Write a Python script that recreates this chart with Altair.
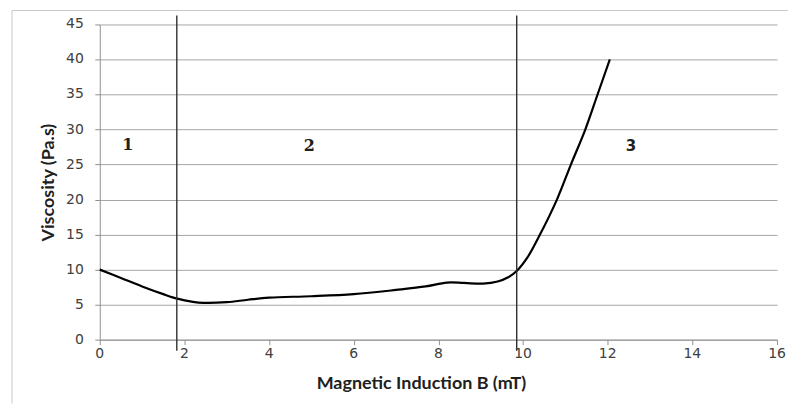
import altair as alt
import pandas as pd

# Curve
b_values = [0.0, 0.5, 1.0, 1.5, 1.83, 2.2, 2.45, 3.0, 3.5, 4.0, 5.0, 6.0, 7.0, 7.7, 8.2, 8.6, 9.05, 9.4, 9.65, 9.85, 10.1, 10.4, 10.8, 11.13, 11.47, 11.76, 12.05]
viscosity = [10.0, 8.8, 7.6, 6.5, 5.85, 5.4, 5.25, 5.35, 5.7, 6.0, 6.2, 6.5, 7.1, 7.6, 8.15, 8.1, 8.0, 8.3, 8.9, 9.8, 11.7, 15.0, 20.0, 25.0, 30.0, 35.0, 40.0]

# Region boundaries and labels
boundaries = [1.82, 9.85]
region_labels = ["1", "2", "3"]
region_x = [0.66, 4.95, 12.55]
region_y = [27.8, 27.6, 27.6]

x_ticks = [0, 2, 4, 6, 8, 10, 12, 14, 16]
y_ticks = [0, 5, 10, 15, 20, 25, 30, 35, 40, 45]

curve_df = pd.DataFrame({"B": b_values, "V": viscosity})
bound_df = pd.DataFrame({"B": boundaries})
label_df = pd.DataFrame({"B": region_x, "V": region_y, "t": region_labels})
xtick_df = pd.DataFrame({"B": x_ticks, "t": [str(v) for v in x_ticks]})
ytick_df = pd.DataFrame({"V": y_ticks, "t": [str(v) for v in y_ticks]})

W, H = 679, 316

xs = alt.Scale(domain=[0, 16], nice=False)
ys = alt.Scale(domain=[0, 45], nice=False)

common = dict(
    domainColor="#909090", tickColor="#909090", tickSize=5, labels=False,
    titleFont="Lato", titleFontWeight="bold", titleColor="#202020", titleFontSize=18,
)
x_axis = alt.Axis(values=x_ticks, grid=False, title="Magnetic Induction B (mT)",
                  titlePadding=29, titleX=322, **common)
y_axis = alt.Axis(values=y_ticks, grid=True, gridColor="#a6a6a6", gridWidth=1,
                  title="Viscosity (Pa.s)", titlePadding=37, **common)

X = alt.X("B:Q", scale=xs, axis=x_axis)
Y = alt.Y("V:Q", scale=ys, axis=y_axis)

curve = alt.Chart(curve_df).mark_line(
    color="black", strokeWidth=2.2, interpolate="catmull-rom"
).encode(x=X, y=Y)

one = pd.DataFrame({"a": [0]})
border_left = alt.Chart(one).mark_rule(color="#c8c8c8", strokeWidth=1, clip=False).encode(
    x=alt.value(-88), y=alt.value(-14), y2=alt.value(380)
)
border_top = alt.Chart(one).mark_rule(color="#c8c8c8", strokeWidth=1, clip=False).encode(
    x=alt.value(-88), x2=alt.value(690), y=alt.value(-14)
)

rules = alt.Chart(bound_df).mark_rule(color="#303030", strokeWidth=1.4, clip=False).encode(
    x=X,
    y=alt.value(-9),
    y2=alt.value(327),
)

xlabels = alt.Chart(xtick_df).mark_text(
    font="DejaVu Sans", fontSize=14, color="#404040", baseline="middle", align="center", clip=False
).encode(x=X, y=alt.value(H + 14), text="t:N")

ylabels = alt.Chart(ytick_df).mark_text(
    font="DejaVu Sans", fontSize=14, color="#404040", baseline="middle", align="right", clip=False
).encode(x=alt.value(-16), y=Y, text="t:N")

labels12 = alt.Chart(label_df.iloc[:2]).mark_text(
    font="DejaVu Serif", fontSize=16, fontWeight="bold", color="#202020"
).encode(x=X, y=Y, text="t:N")

labels3 = alt.Chart(label_df.iloc[2:]).mark_text(
    font="DejaVu Sans", fontSize=15, fontWeight="bold", color="#202020"
).encode(x=X, y=Y, text="t:N")

chart = alt.layer(curve, border_left, border_top, rules, xlabels, ylabels, labels12, labels3).properties(
    width=W, height=H,
    padding={"left": 3, "top": 1, "right": 0, "bottom": 0},
    background="white",
).configure_view(
    stroke=None
)

chart.save("out.html", embed_options={"renderer": "svg", "actions": False})
